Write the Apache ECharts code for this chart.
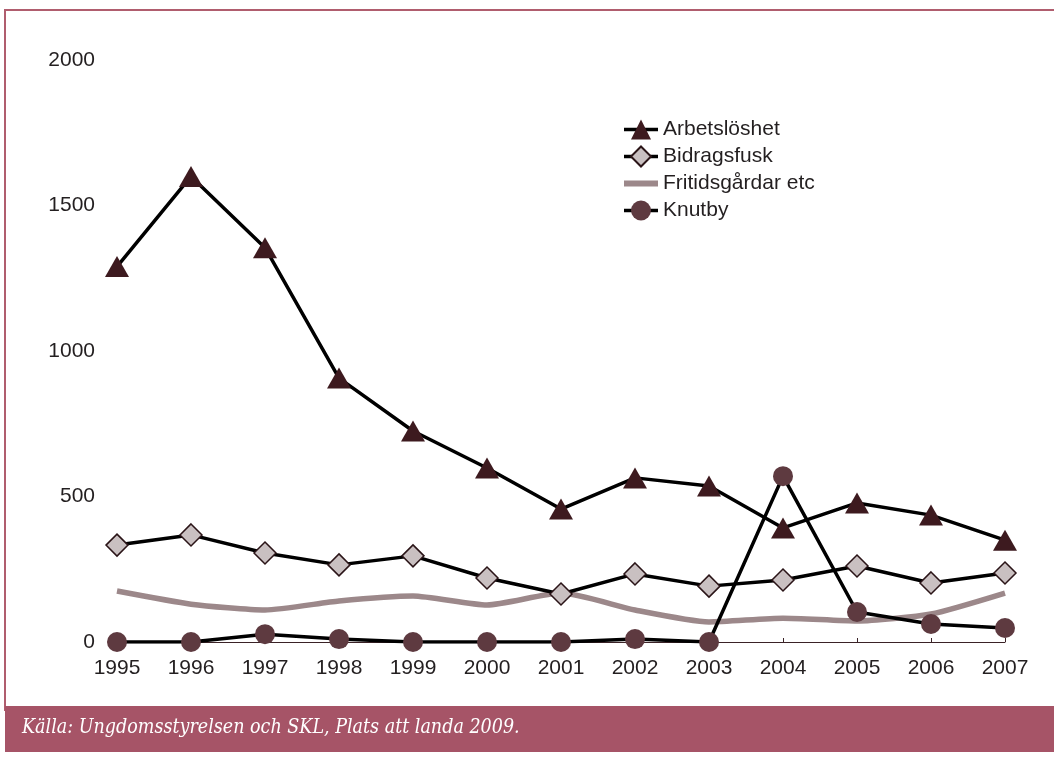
<!DOCTYPE html>
<html><head><meta charset="utf-8">
<script src="https://cdn.jsdelivr.net/npm/echarts@6/dist/echarts.min.js"></script>
<style>html,body{margin:0;padding:0;background:#fff}#c{width:1054px;height:759px}</style>
</head><body><div id="c"></div>
<script>
const years = ['1995','1996','1997','1998','1999','2000','2001','2002','2003','2004','2005','2006','2007'];
const arbetsloshet = [1290, 1600, 1355, 907, 725, 598, 457, 564, 536, 392, 478, 436, 350];
const bidragsfusk = [333, 368, 306, 265, 296, 220, 165, 234, 192, 213, 261, 203, 237];
const fritidsgardar = [175, 130, 110, 141, 158, 127, 168, 110, 69, 82, 72, 96, 168];
const knutby = [0, 0, 27, 10, 0, 0, 0, 10, 0, 570, 103, 62, 48];
const yTicks = [0, 500, 1000, 1500, 2000];
const source = 'Källa: Ungdomsstyrelsen och SKL, Plats att landa 2009.';

const chart = echarts.init(document.getElementById('c'));
const font = 'Liberation Sans, Arial, sans-serif';
chart.setOption({
  animation: false,
  backgroundColor: '#fff',
  textStyle: {fontFamily: font},
  grid: {left: 117, right: 49, top: 60, bottom: 117},
  legend: {
    orient: 'vertical', left: 616, top: 112, itemGap: 2, itemWidth: 34, itemHeight: 25,
    lineStyle: {width: 3.5},
    textStyle: {fontSize: 21, color: '#231f20', fontFamily: font, lineHeight: 25},
    data: ['Arbetslöshet', 'Bidragsfusk',
      {name: 'Fritidsgårdar etc', itemStyle: {opacity: 0}, lineStyle: {width: 6}},
      'Knutby']
  },
  xAxis: {
    type: 'category', data: years, boundaryGap: false,
    axisLine: {lineStyle: {color: '#3a2226', width: 1}},
    axisTick: {inside: true, length: 4, lineStyle: {color: '#3a2226'}},
    axisLabel: {fontSize: 21, color: '#231f20', margin: 16}
  },
  yAxis: {
    type: 'value', min: 0, max: 2000, interval: 500,
    axisLine: {show: false}, axisTick: {show: false}, splitLine: {show: false},
    axisLabel: {fontSize: 21, color: '#231f20', margin: 22,
      formatter: v => yTicks.includes(v) ? String(v) : ''}
  },
  series: [
    {name: 'Fritidsgårdar etc', type: 'line', data: fritidsgardar, symbol: 'none', smooth: 0.2,
     lineStyle: {color: '#9c888a', width: 5.5}, itemStyle: {color: '#9c888a'}, z: 1},
    {name: 'Knutby', type: 'line', data: knutby, symbol: 'circle', symbolSize: 20,
     lineStyle: {color: '#000', width: 3.5}, itemStyle: {color: '#5e3a40', borderWidth: 0}, z: 2},
    {name: 'Bidragsfusk', type: 'line', data: bidragsfusk, symbol: 'diamond', symbolSize: 22,
     lineStyle: {color: '#000', width: 3.5}, itemStyle: {color: '#c9c0c1', borderColor: '#2a1417', borderWidth: 1.5}, z: 3},
    {name: 'Arbetslöshet', type: 'line', data: arbetsloshet, symbol: 'triangle', symbolSize: [24, 21],
     lineStyle: {color: '#000', width: 3.5}, itemStyle: {color: '#3d1a1f', borderWidth: 0}, z: 4}
  ],
  graphic: [
    {type: 'rect', silent: true, z: -1, shape: {x: 5, y: 10, width: 1060, height: 700},
     style: {fill: 'none', stroke: '#b05d6e', lineWidth: 2}},
    {type: 'rect', silent: true, z: 10, shape: {x: 5, y: 706, width: 1060, height: 46},
     style: {fill: '#a65467'}},
    {type: 'text', silent: true, z: 11, left: 22, top: 718,
     style: {text: source, fill: '#fff', fontSize: 19.5, fontStyle: 'italic',
       fontFamily: 'DejaVu Serif Condensed, DejaVu Serif, serif'}}
  ]
});
</script></body></html>
